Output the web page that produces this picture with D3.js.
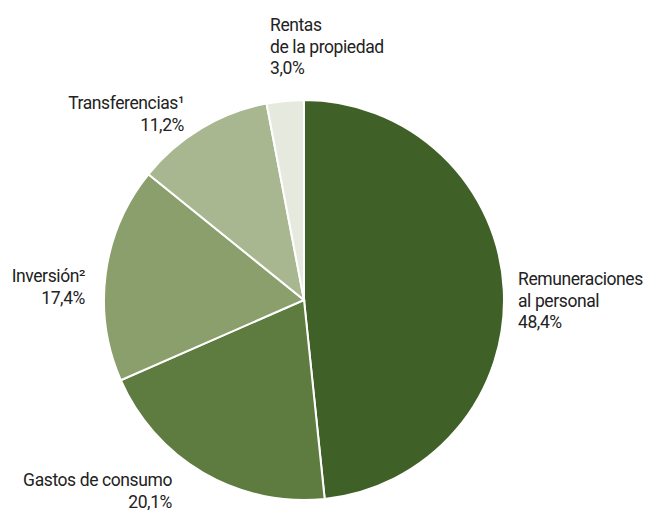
<!DOCTYPE html>
<html>
<head>
<meta charset="utf-8">
<script src="https://cdn.jsdelivr.net/npm/d3@7"></script>
<style>
  body { margin: 0; background: #fff; }
  text { font-family: Roboto, "Noto Sans", sans-serif; font-size: 17.5px; letter-spacing: -0.4px; fill: #222; }
</style>
</head>
<body>
<div class="svg-container"></div>
<script>
// chart data
const categories = ['Remuneraciones al personal', 'Gastos de consumo', 'Inversión²', 'Transferencias¹', 'Rentas de la propiedad'];
const values = [48.4, 20.1, 17.4, 11.2, 3.0];
const colours = ['#3f6026', '#5e7c40', '#8a9f6b', '#a8b790', '#e6e9de'];
const labelLines = [
  ['Remuneraciones', 'al personal', '48,4%'],
  ['Gastos de consumo', '20,1%'],
  ['Inversión²', '17,4%'],
  ['Transferencias¹', '11,2%'],
  ['Rentas', 'de la propiedad', '3,0%']
];

// label anchors (first baseline)
const labelPos = [
  { x: 518, y: 285, anchor: 'start' },
  { x: 172, y: 486, anchor: 'end' },
  { x: 85, y: 282, anchor: 'end' },
  { x: 184, y: 109, anchor: 'end' },
  { x: 270, y: 31, anchor: 'start' }
];

const width = 647;
const height = 510;
const cx = 304, cy = 300, radius = 200;
const lineHeight = 21.5;

const svg = d3.select('.svg-container')
  .append('svg')
  .attr('width', width)
  .attr('height', height)

const pie = d3.pie()
  .sort(null)
  .value(d => d)

const arc = d3.arc()
  .innerRadius(0)
  .outerRadius(radius)

const g = svg.append('g')
  .attr('transform', `translate(${cx},${cy})`)

g.selectAll('path')
  .data(pie(values))
  .enter()
  .append('path')
  .attr('d', arc)
  .style('fill', (d, i) => colours[i])
  .style('stroke', '#fff')
  .style('stroke-width', 2)

// labels
const labels = svg.selectAll('text.label')
  .data(labelLines)
  .enter()
  .append('text')
  .attr('class', 'label')
  .attr('text-anchor', (d, i) => labelPos[i].anchor)
  .attr('x', (d, i) => labelPos[i].x)
  .attr('y', (d, i) => labelPos[i].y)

labels.selectAll('tspan')
  .data((d, i) => d.map(t => ({ t, i })))
  .enter()
  .append('tspan')
  .attr('x', d => labelPos[d.i].x)
  .attr('dy', (d, j) => j === 0 ? 0 : lineHeight)
  .text(d => d.t)
</script>
</body>
</html>
